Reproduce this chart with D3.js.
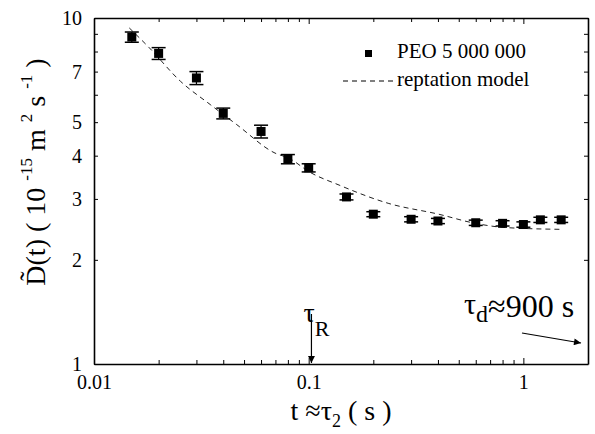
<!DOCTYPE html>
<html>
<head>
<meta charset="utf-8">
<script src="https://cdn.jsdelivr.net/npm/d3@7"></script>
<style>
  body { margin: 0; background: #fff; }
  svg text { font-family: "Liberation Serif", Tinos, "Times New Roman", Times, "DejaVu Serif", "Noto Serif", serif !important; fill: #000; }
</style>
</head>
<body>
<div id="chart"></div>
<script>
// measured data: PEO 5 000 000
var times = [0.015, 0.02, 0.03, 0.04, 0.06, 0.08, 0.1, 0.15, 0.2, 0.3, 0.4, 0.6, 0.8, 1.0, 1.2, 1.5];
var diffusion = [8.81, 7.9, 6.71, 5.3, 4.7, 3.91, 3.69, 3.04, 2.71, 2.62, 2.59, 2.56, 2.55, 2.53, 2.61, 2.61];
var errors = [0.3, 0.31, 0.29, 0.19, 0.2, 0.12, 0.1, 0.06, 0.045, 0.045, 0.045, 0.045, 0.045, 0.045, 0.045, 0.045];

// reptation model curve
var modelTimes = [0.0146, 0.018, 0.0253, 0.0348, 0.0462, 0.0697, 0.0812, 0.1, 0.1385, 0.2363, 0.403, 0.597, 0.822, 1.506];
var modelValues = [9.36, 8.23, 6.56, 5.62, 4.92, 4.07, 3.93, 3.6, 3.29, 2.91, 2.71, 2.55, 2.48, 2.45];

var xLabels = [0.01, 0.1, 1];
var yLabels = [1, 2, 3, 4, 5, 7, 10];

var svgWidth = 595;
var svgHeight = 434;

var margin = { top: 18, right: 7, bottom: 70, left: 94 };
var width = svgWidth - margin.left - margin.right;
var height = svgHeight - margin.top - margin.bottom;

var svg = d3.select("#chart")
  .append("svg")
  .attr("width", svgWidth)
  .attr("height", svgHeight);

var defs = svg.append("defs");
defs.append("marker")
  .attr("id", "arrow")
  .attr("viewBox", "0 0 10 10")
  .attr("refX", 10)
  .attr("refY", 5)
  .attr("markerWidth", 9)
  .attr("markerHeight", 7)
  .attr("markerUnits", "userSpaceOnUse")
  .attr("orient", "auto")
  .append("path")
  .attr("d", "M0,0 L10,5 L0,10 Z")
  .attr("fill", "#000");

var chartGroup = svg.append("g")
  .attr("transform", `translate(${margin.left}, ${margin.top})`);

var xScale = d3.scaleLog().domain([0.01, 2]).range([0, width]);
var yScale = d3.scaleLog().domain([1, 10]).range([height, 0]);

// all minor tick positions
var xTicks = [];
[0.01, 0.1, 1].forEach(function (dec) {
  for (var i = 1; i <= 9; i++) {
    var v = +(dec * i).toPrecision(3);
    if (v <= 2) xTicks.push(v);
  }
});
var yTicks = [1, 2, 3, 4, 5, 6, 7, 8, 9, 10];

function fmtX(d) { return xLabels.indexOf(d) >= 0 ? String(d) : ""; }
function fmtY(d) { return yLabels.indexOf(d) >= 0 ? String(d) : ""; }

// bottom axis
var bottomAxis = d3.axisBottom(xScale)
  .tickValues(xTicks)
  .tickSizeInner(-4)
  .tickSizeOuter(0)
  .tickPadding(11)
  .tickFormat(fmtX);

var xAxisG = chartGroup.append("g")
  .attr("transform", `translate(0, ${height})`)
  .call(bottomAxis);

// top axis (ticks only)
chartGroup.append("g")
  .call(d3.axisTop(xScale).tickValues(xTicks).tickSizeInner(-4).tickSizeOuter(0).tickFormat(""));

// left axis
var leftAxis = d3.axisLeft(yScale)
  .tickValues(yTicks)
  .tickSizeInner(-4)
  .tickSizeOuter(0)
  .tickPadding(12)
  .tickFormat(fmtY);

var yAxisG = chartGroup.append("g").call(leftAxis);

// right axis (ticks only)
chartGroup.append("g")
  .attr("transform", `translate(${width}, 0)`)
  .call(d3.axisRight(yScale).tickValues(yTicks).tickSizeInner(-4).tickSizeOuter(0).tickFormat(""));

chartGroup.selectAll("g").attr("font-family", null);

chartGroup.selectAll(".domain")
  .attr("stroke", "#000")
  .attr("stroke-width", 1.6);
chartGroup.selectAll(".tick line")
  .attr("stroke", "#000")
  .attr("stroke-width", 1);

xAxisG.selectAll("text").style("font-size", "20px");
yAxisG.selectAll("text").style("font-size", "20px");

// longer ticks at decades
chartGroup.selectAll(".tick")
  .filter(function (d) { return d === 0.01 || d === 0.1 || d === 1; })
  .select("line")
  .each(function () {
    var l = d3.select(this);
    if (l.attr("y2") !== null && +l.attr("y2") !== 0) l.attr("y2", +l.attr("y2") * 1.5);
  });

// reptation model
var line = d3.line()
  .x(function (d, i) { return xScale(modelTimes[i]); })
  .y(function (d) { return yScale(d); })
  .curve(d3.curveMonotoneX);

chartGroup.append("path")
  .datum(modelValues)
  .attr("d", line)
  .attr("fill", "none")
  .attr("stroke", "#222")
  .attr("stroke-width", 1)
  .attr("stroke-dasharray", "5,4");

// error bars
var errG = chartGroup.append("g");
times.forEach(function (t, i) {
  var x = xScale(t);
  var y0 = yScale(diffusion[i] - errors[i]);
  var y1 = yScale(diffusion[i] + errors[i]);
  errG.append("line").attr("x1", x).attr("x2", x).attr("y1", y0).attr("y2", y1)
    .attr("stroke", "#000").attr("stroke-width", 1.2);
  [y0, y1].forEach(function (yy) {
    errG.append("line").attr("x1", x - 7).attr("x2", x + 7).attr("y1", yy).attr("y2", yy)
      .attr("stroke", "#000").attr("stroke-width", 1.5);
  });
});

// data squares
chartGroup.selectAll("rect.pt")
  .data(times)
  .enter()
  .append("rect")
  .attr("class", "pt")
  .attr("x", function (d) { return xScale(d) - 4.5; })
  .attr("y", function (d, i) { return yScale(diffusion[i]) - 4.5; })
  .attr("width", 9)
  .attr("height", 9)
  .attr("fill", "#000");

// legend
var legend = svg.append("g");
legend.append("rect")
  .attr("x", 365).attr("y", 50).attr("width", 7).attr("height", 7)
  .attr("fill", "#000");
legend.append("text")
  .attr("x", 397).attr("y", 58)
  .style("font-size", "21px")
  .text("PEO 5 000 000");
legend.append("line")
  .attr("x1", 343).attr("x2", 396).attr("y1", 81).attr("y2", 81)
  .attr("stroke", "#000").attr("stroke-width", 1)
  .attr("stroke-dasharray", "5,4");
legend.append("text")
  .attr("x", 397).attr("y", 86)
  .style("font-size", "21px")
  .text("reptation model");

// tau_R annotation
var tauR = 0.103;
var tauRx = margin.left + xScale(tauR);
svg.append("line")
  .attr("x1", tauRx).attr("x2", tauRx)
  .attr("y1", 314).attr("y2", margin.top + height - 1)
  .attr("stroke", "#000").attr("stroke-width", 1.2)
  .attr("marker-end", "url(#arrow)");
var tR = svg.append("text").attr("x", tauRx - 8).attr("y", 322).style("font-size", "28px");
tR.append("tspan").text("\u03c4");
tR.append("tspan").attr("dy", 14).style("font-size", "22px").text("R");

// tau_d annotation
var tD = svg.append("text").attr("x", 464).attr("y", 314).style("font-size", "30px");
tD.append("tspan").text("\u03c4");
tD.append("tspan").attr("dy", 8).style("font-size", "24px").text("d");
tD.append("tspan").attr("dy", -5).style("font-size", "32px").text("\u2248900 s");
svg.append("line")
  .attr("x1", 522).attr("y1", 333).attr("x2", 581).attr("y2", 343)
  .attr("stroke", "#000").attr("stroke-width", 1.2)
  .attr("marker-end", "url(#arrow)");

// x axis title
var xt = svg.append("text")
  .attr("x", 341).attr("y", 420)
  .attr("text-anchor", "middle")
  .style("font-size", "28px");
xt.append("tspan").text("t \u2248\u03c4");
xt.append("tspan").attr("dy", 7).style("font-size", "18px").text("2");
xt.append("tspan").attr("dy", -7).text(" ( s )");

// y axis title
var yt = svg.append("text")
  .attr("transform", "translate(45, 172) rotate(-90)")
  .attr("text-anchor", "middle")
  .style("font-size", "28px");
yt.append("tspan").text("D\u0303(t) ( 10 ");
yt.append("tspan").attr("dy", -13).style("font-size", "17px").text("-15");
yt.append("tspan").attr("dy", 13).text(" m ");
yt.append("tspan").attr("dy", -13).style("font-size", "17px").text("2");
yt.append("tspan").attr("dy", 13).text(" s ");
yt.append("tspan").attr("dy", -13).style("font-size", "17px").text("-1");
yt.append("tspan").attr("dy", 13).text(" )");
</script>
</body>
</html>
